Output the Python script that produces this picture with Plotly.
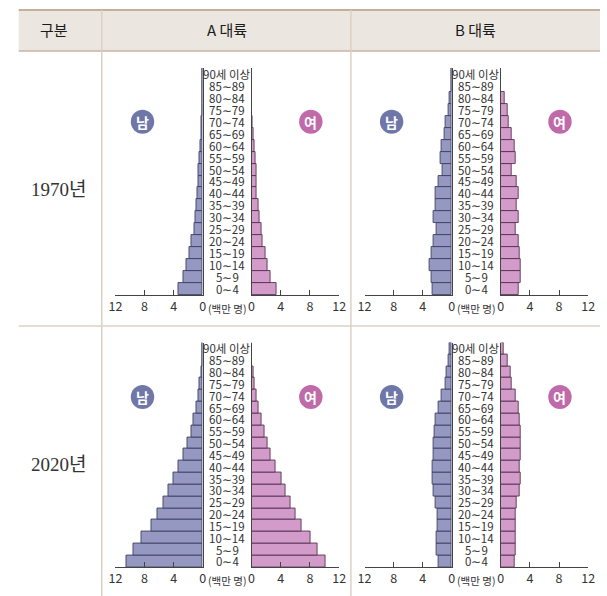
import plotly.graph_objects as go

W, H = 607, 596

ages = ["0∼4", "5∼9", "10∼14", "15∼19", "20∼24", "25∼29", "30∼34", "35∼39",
        "40∼44", "45∼49", "50∼54", "55∼59", "60∼64", "65∼69", "70∼74",
        "75∼79", "80∼84", "85∼89", "90세 이상"]

a1970_m = [3.3, 2.6, 2.2, 1.8, 1.5, 1.2, 1.05, 0.85, 0.7, 0.65, 0.55, 0.4, 0.3, 0.22, 0.15, 0, 0, 0, 0]
a1970_f = [3.4, 2.65, 2.2, 1.85, 1.55, 1.35, 1.1, 1.0, 0.75, 0.7, 0.65, 0.55, 0.45, 0.3, 0.2, 0, 0, 0, 0]
b1970_m = [2.65, 2.8, 3.0, 2.75, 2.55, 2.1, 2.45, 2.2, 2.3, 1.8, 1.25, 1.6, 1.4, 1.05, 0.8, 0.5, 0.3, 0, 0]
b1970_f = [2.5, 2.75, 2.75, 2.65, 2.4, 2.0, 2.45, 2.2, 2.45, 2.2, 1.55, 2.05, 1.9, 1.55, 1.15, 0.9, 0.5, 0, 0]
a2020_m = [10.5, 9.5, 8.4, 7.1, 6.2, 5.4, 4.7, 4.0, 3.3, 2.7, 2.1, 1.6, 1.3, 0.85, 0.6, 0.4, 0.2, 0.05, 0]
a2020_f = [10.1, 9.1, 8.05, 6.9, 6.0, 5.35, 4.7, 4.05, 3.25, 2.6, 2.2, 1.75, 1.4, 0.95, 0.65, 0.45, 0.25, 0.05, 0]
b2020_m = [1.85, 2.05, 2.05, 1.9, 1.95, 2.25, 2.55, 2.7, 2.6, 2.55, 2.45, 2.35, 2.2, 1.85, 1.4, 0.9, 0.75, 0.45, 0.25]
b2020_f = [1.95, 2.1, 2.05, 2.0, 2.05, 2.25, 2.65, 2.8, 2.65, 2.7, 2.7, 2.75, 2.6, 2.4, 2.1, 1.55, 1.35, 0.9, 0.45]

x_ticks = [0, 4, 8, 12]
col_titles = ["A 대륙", "B 대륙"]
row_titles = ["1970년", "2020년"]
male_label, female_label = "남", "여"
unit_label = "(백만 명)"

panels = [  # (row, col, male, female)
    (0, 0, a1970_m, a1970_f),
    (0, 1, b1970_m, b1970_f),
    (1, 0, a2020_m, a2020_f),
    (1, 1, b2020_m, b2020_f),
]

MALE_FILL, MALE_EDGE = "#9599c1", "#3e4064"
FEM_FILL, FEM_EDGE = "#d39bc9", "#573350"
MALE_BADGE, FEM_BADGE = "#6f77a9", "#c06aa9"
TXT = "#333333"
KFONT = "Noto Sans CJK KR"


def px(x):
    return x / W


def py(y):
    return 1 - y / H


row_top = [68, 342.5]
row_bot = [295, 567.3]
col_off = [0, 255]

fig = go.Figure()
layout = {}
annotations = []
shapes = []

# table background / lines
shapes.append(dict(type="rect", xref="paper", yref="paper", x0=px(12), x1=px(607), y0=py(10), y1=py(51),
                   fillcolor="#ece6e0", line=dict(width=0), layer="below"))
shapes.append(dict(type="line", xref="paper", yref="paper", x0=px(12), x1=px(607), y0=py(10), y1=py(10),
                   line=dict(color="#c4af99", width=2)))
shapes.append(dict(type="line", xref="paper", yref="paper", x0=px(12), x1=px(607), y0=py(51), y1=py(51),
                   line=dict(color="#c8b5a0", width=1.5)))
for xv in (97, 352):
    shapes.append(dict(type="line", xref="paper", yref="paper", x0=px(xv), x1=px(xv), y0=py(10), y1=py(596),
                       line=dict(color="#dcd0c4", width=1.5)))
shapes.append(dict(type="line", xref="paper", yref="paper", x0=px(12), x1=px(607), y0=py(326), y1=py(326),
                   line=dict(color="#dcd0c4", width=1.5)))

# header texts
for txt, xc in (("구분", 48), (col_titles[0], 225), (col_titles[1], 480)):
    annotations.append(dict(text=txt, xref="paper", yref="paper", x=px(xc), y=py(30), showarrow=False,
                            xanchor="center", yanchor="middle",
                            font=dict(family=KFONT, size=15, color="#1a1a1a", weight=400)))
for r, txt in enumerate(row_titles):
    yc = [190, 464][r]
    annotations.append(dict(text=txt, xref="paper", yref="paper", x=px(53), y=py(yc), showarrow=False,
                            xanchor="center", yanchor="middle",
                            font=dict(family="Liberation Serif, Noto Sans CJK KR, serif", size=19, color=TXT)))

ax = 0
for (r, c, mvals, fvals) in panels:
    off = col_off[c]
    ydom = [py(row_bot[r]), py(row_top[r])]
    for side in ("m", "f"):
        ax += 1
        xn = "x" if ax == 1 else f"x{ax}"
        yn = "y" if ax == 1 else f"y{ax}"
        xk = "xaxis" if ax == 1 else f"xaxis{ax}"
        yk = "yaxis" if ax == 1 else f"yaxis{ax}"
        if side == "m":
            xdom = [px(111 + off), px(200.3 + off)]
            vals, fill, edge = mvals, MALE_FILL, MALE_EDGE
            xrange = [12, 0]
            yside = "right"
        else:
            xdom = [px(250.3 + off), px(340 + off)]
            vals, fill, edge = fvals, FEM_FILL, FEM_EDGE
            xrange = [0, 12]
            yside = "left"
        fig.add_trace(go.Bar(x=vals, y=ages, orientation="h", xaxis=xn, yaxis=yn,
                             marker=dict(color=fill, line=dict(color=edge, width=0.9)),
                             showlegend=False, hoverinfo="skip"))
        layout[xk] = dict(domain=xdom, range=xrange, anchor=yn, showline=True, linecolor="#444444",
                          linewidth=1, ticks="inside", ticklen=5, tickcolor="#444444",
                          tickvals=x_ticks, showgrid=False, zeroline=False,
                          tickfont=dict(family=KFONT, size=12.5, color=TXT), ticklabelstandoff=0)
        layout[yk] = dict(domain=ydom, anchor=xn, side=yside, showline=True, linecolor="#444444",
                          linewidth=1, showticklabels=False, ticks="", showgrid=False, zeroline=False,
                          type="category", categoryorder="array", categoryarray=ages,
                          range=[-0.5, len(ages) - 0.5])
        if side == "m":
            mid_y = yn
    # age labels in the middle
    for a in ages:
        annotations.append(dict(text=a, xref="paper", yref=mid_y, x=px(225.3 + off), y=a, showarrow=False,
                                xanchor="center", yanchor="middle",
                                font=dict(family=KFONT, size=11.5, color=TXT)))
    # unit label
    annotations.append(dict(text=unit_label, xref="paper", yref="paper", x=px(225.3 + off),
                            y=py(row_bot[r] + 13), showarrow=False, xanchor="center", yanchor="middle",
                            font=dict(family=KFONT, size=10.5, color=TXT)))
    # badges
    by = [121.7, 397][r]
    for bx, col, lab in ((138.7 + off, MALE_BADGE, male_label), (311 + off, FEM_BADGE, female_label)):
        rad = 12
        shapes.append(dict(type="circle", xref="paper", yref="paper", x0=px(bx - rad), x1=px(bx + rad),
                           y0=py(by + rad), y1=py(by - rad), fillcolor=col, line=dict(width=0)))
        annotations.append(dict(text=lab, xref="paper", yref="paper", x=px(bx), y=py(by), showarrow=False,
                                xanchor="center", yanchor="middle",
                                font=dict(family=KFONT, size=14, color="white", weight="bold")))

fig.update_layout(**layout)
fig.update_layout(width=W, height=H, margin=dict(l=0, r=0, t=0, b=0), paper_bgcolor="white",
                  plot_bgcolor="rgba(0,0,0,0)", bargap=0, barmode="overlay",
                  annotations=annotations, shapes=shapes, showlegend=False)

fig.write_html("out.html", config={"displayModeBar": False},
               post_script="document.body.style.margin='0px';document.body.style.padding='0px';document.body.style.overflow='hidden';")
